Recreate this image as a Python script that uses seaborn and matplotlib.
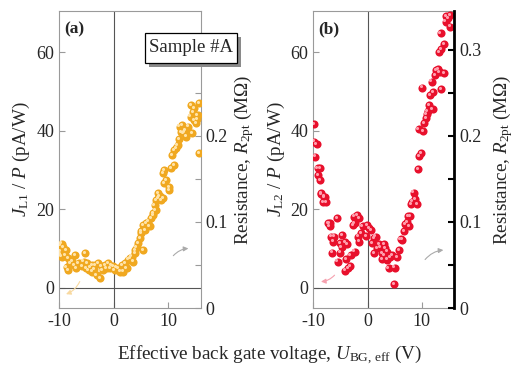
import numpy as np
import pandas as pd
import matplotlib
matplotlib.use("Agg")
import matplotlib.pyplot as plt
import seaborn as sns
from matplotlib.transforms import offset_copy
from matplotlib.ticker import MultipleLocator, FuncFormatter
from matplotlib.patches import Rectangle

# ---------------- data ----------------
xa = [-9.8, -9.5, -9.2, -9.8, -9.5, -9.7, -8.7, -8.9, -8.3, -8.0, -8.3, -8.6, -7.0, -7.3, -7.6,
      -6.4, -6.8, -5.8, -5.2, -5.5, -4.9, -4.6, -5.0, -4.0, -4.0, -4.3, -3.4, -3.1, -3.6, -2.5,
      -2.8, -2.2, -2.0, -1.6, -1.3, -1.0, -0.7, -0.4, -0.1, 0.2, 0.5, 0.9, 1.2, 1.5, 1.8, 2.1,
      2.4, 2.7, 3.0, 3.3, 3.6, 3.9, 3.9, 4.2, 4.5, 4.8, 5.1, 5.1, 5.4, 5.4, 5.7, 6.0, 6.3, 6.6,
      6.9, 7.2, 7.2, 7.5, 7.7, 7.8, 8.1, 8.1, 8.4, 8.7, 9.0, 9.3, 9.6, 10.2, 10.1, 9.0, 9.3,
      10.5, 11.1, 10.7, 11.1, 11.5, 11.7, 12.1, 12.5, 12.4, 12.8, 13.3, 13.0, 13.7, 13.2, 14.4,
      14.1, 14.2, 14.8, 14.8, 15.1, 15.4, 15.7, 15.6, 15.3, 14.5, 12.0]
ya = [10.9, 11.2, 10.4, 9.2, 7.9, 8.6, 9.6, 8.2, 7.5, 6.2, 4.5, 5.2, 8.3, 5.8, 6.8,
      6.2, 5.0, 5.4, 8.8, 6.6, 6.2, 4.5, 5.0, 5.8, 4.1, 5.2, 5.8, 3.2, 4.8, 2.4,
      6.2, 5.4, 4.4, 5.8, 4.9, 6.2, 4.9, 5.6, 5.4, 4.5, 5.1, 4.9, 4.1, 5.8, 4.1, 6.2,
      5.0, 7.1, 7.5, 7.9, 6.6, 8.8, 9.6, 10.4, 11.3, 12.6, 13.9, 14.3, 9.6, 16.0, 14.7, 16.4, 16.8, 15.6,
      17.7, 19.0, 18.5, 21.1, 19.8, 22.3, 24.0, 22.8, 23.4, 22.3, 22.8, 26.6, 27.4, 25.7, 24.9, 29.1, 30.0,
      30.4, 31.3, 33.8, 35.1, 35.5, 36.4, 41.0, 41.4, 39.7, 39.3, 38.5, 39.7, 41.0, 40.2, 39.3,
      43.6, 46.5, 45.7, 42.7, 41.9, 44.0, 47.0, 34.2, 43.0, 44.8, 37.8]

xb = [-9.8, -9.8, -9.4, -9.7, -9.2, -8.8, -9.1, -8.8, -8.5, -8.5, -7.9, -8.0, -8.2, -7.7, -7.3,
      -7.0, -7.0, -5.6, -6.7, -6.1, -6.4, -4.7, -5.1, -4.2, -3.7, -4.8, -6.5, -5.1, -5.5, -3.9,
      -3.1, -2.4, -4.2, -3.6, -3.2, -2.5, -1.9, -1.5, -2.7, -2.4, -1.8, -1.2, -1.5, -0.9, -0.1,
      0.3, 0.6, -0.3, 1.2, 1.5, 0.9, 1.2, 1.7, 2.1, 2.4, 2.7, 3.0, 3.3, 3.6, 3.0, 3.9, 2.7, 3.6,
      4.2, 4.5, 4.85, 5.0, 5.5, 5.8, 6.1, 6.4, 6.7, 7.0, 7.3, 7.7, 7.5, 7.9, 8.0, 8.2, 8.5, 8.8,
      9.1, 9.3, 9.5, 9.9, 9.4, 10.3, 10.4, 10.8, 10.9, 11.1, 11.3, 12.0, 11.5, 12.1, 11.8, 10.0,
      13.6, 12.4, 12.7, 13.0, 13.3, 14.1, 13.2, 13.6, 14.1, 13.5, 14.4, 14.9, 15.2, 15.3, 14.5]
yb = [41.7, 37.2, 36.6, 33.4, 30.4, 30.4, 28.7, 27.4, 24.0, 23.8, 23.2, 23.0, 21.8, 21.8, 16.4,
      16.4, 15.7, 17.7, 13.0, 13.0, 11.7, 13.4, 11.3, 11.5, 11.1, 10.4, 8.9, 8.9, 6.6, 7.2,
      8.3, 9.2, 4.3, 4.9, 5.4, 18.1, 18.5, 17.7, 16.0, 16.4, 13.0, 13.9, 11.7, 15.7, 16.0,
      15.1, 14.7, 13.2, 12.6, 13.0, 11.3, 8.8, 10.0, 11.1, 10.4, 8.8, 11.1, 10.0, 9.2, 8.3, 4.9, 7.2, 7.1,
      7.8, 8.3, 0.9, 5.1, 7.7, 9.6, 12.4, 12.2, 14.3, 16.2, 16.6, 15.7, 18.3, 18.3, 21.3, 21.9, 24.2, 22.6,
      21.3, 30.2, 33.6, 34.2, 40.3, 39.9, 42.0, 43.1, 44.2, 45.0, 46.5, 45.5, 49.1, 49.9, 52.5, 51.0,
      50.5, 54.2, 55.5, 55.6, 55.0, 54.6, 60.1, 60.7, 62.1, 64.8, 67.8, 68.6, 69.5, 66.5, 69.1]

x_ticks = [-10, 0, 10]
y_ticks = [0, 20, 40, 60]

# ---------------- style ----------------
sns.set_style("ticks")
plt.rcParams["font.family"] = ["Liberation Serif", "DejaVu Serif"]
plt.rcParams["mathtext.fontset"] = "custom"
plt.rcParams["mathtext.rm"] = "Liberation Serif"
plt.rcParams["mathtext.it"] = "Liberation Serif:italic"
plt.rcParams["mathtext.bf"] = "Liberation Serif:bold"
plt.rcParams["axes.unicode_minus"] = False

fig = plt.figure(figsize=(5.15, 3.69), dpi=100)
GRAY = "#9a9a9a"
FS_TICK = 13
FS_LAB = 13.8

panels = [
    dict(rect=[0.1146, 0.1653, 0.2757, 0.8049], x=xa, y=ya, col="#F0A820", hi="#FFE3A8",
         lab=r"$J_{\rm L1}$ / $P$ (pA/W)", tag="(a)", bold_right=False, rmax=0.25,
         arrows=[((-6.0, 2.2), (-9.2, -1.9), "#F8D9A0"), ((10.6, 7.6), (14.2, 10.0), "#aaaaaa")]),
    dict(rect=[0.6084, 0.1653, 0.2737, 0.8049], x=xb, y=yb, col="#E8102C", hi="#FF9FAE",
         lab=r"$J_{\rm L2}$ / $P$ (pA/W)", tag="(b)", bold_right=True, rmax=0.35,
         arrows=[((-5.75, 3.7), (-9.1, 1.5), "#F5A0AE"), ((10.3, 6.6), (14.5, 9.6), "#aaaaaa")]),
]

for p in panels:
    ax = fig.add_axes(p["rect"])
    df = pd.DataFrame({"U": p["x"], "J": p["y"]})
    ax.axhline(0, color="#555555", lw=0.8, zorder=1)
    ax.axvline(0, color="#555555", lw=0.8, zorder=1)
    sns.scatterplot(data=df, x="U", y="J", ax=ax, color=p["col"], s=34, linewidth=0,
                    legend=False, zorder=3)
    hl = offset_copy(ax.transData, fig=fig, x=-0.9, y=0.9, units="points")
    sns.scatterplot(data=df, x="U", y="J", ax=ax, color=p["hi"], s=5, linewidth=0,
                    legend=False, zorder=4, transform=hl)
    ax.set_xlim(-10, 16)
    ax.set_ylim(-5.2, 70.5)
    ax.set_xticks(x_ticks)
    ax.set_yticks(y_ticks)
    ax.tick_params(direction="in", length=4, width=0.8, color=GRAY, labelsize=FS_TICK,
                   right=False, top=False)
    for s in ax.spines.values():
        s.set_color(GRAY)
        s.set_linewidth(0.8)
    ax.set_xlabel("")
    ax.set_ylabel(p["lab"], fontsize=FS_LAB)
    ax.yaxis.set_label_coords(-0.265, 0.5)
    ax.yaxis.label.set_va("center")
    ax.text(0.035, 0.965, p["tag"], transform=ax.transAxes, fontsize=12.5, fontweight="bold",
            ha="left", va="top")
    for (st, en, c) in p["arrows"]:
        ax.annotate("", xy=en, xytext=st,
                    arrowprops=dict(arrowstyle="-|>", color=c, lw=0.8, mutation_scale=7,
                                    connectionstyle="arc3,rad=-0.25"))

    tw = ax.twinx()
    tw.set_ylim(0, 0.345)
    tw.yaxis.set_major_locator(MultipleLocator(0.1))
    tw.yaxis.set_minor_locator(MultipleLocator(0.05))
    rmax = p["rmax"]
    tw.yaxis.set_major_formatter(FuncFormatter(
        lambda v, pos, rmax=rmax: "" if v > rmax else ("0" if abs(v) < 1e-9 else f"{v:.1f}")))
    tw.set_ylabel("Resistance, $R_{\\rm 2pt}$ (MΩ)", fontsize=FS_LAB)
    tw.yaxis.set_label_coords(1.30 if not p["bold_right"] else 1.345, 0.5)
    tw.yaxis.label.set_va("center")
    for s in tw.spines.values():
        s.set_visible(False)
    if p["bold_right"]:
        tw.spines["right"].set_visible(True)
        tw.spines["right"].set_color("black")
        tw.spines["right"].set_linewidth(2.0)
        tw.tick_params(which="both", direction="in", length=4, width=1.5, color="black",
                       labelsize=FS_TICK)
    else:
        tw.tick_params(which="both", direction="in", length=4, width=0.8, color=GRAY,
                       labelsize=FS_TICK)

# Sample box with shadow (figure pixel geometry: x 145-237, y 33-63)
W, H = 515.0, 369.0
bx0, bx1, by0, by1 = 145, 237, 33, 63
sh = 4
fig.add_artist(Rectangle(((bx0 + sh) / W, 1 - (by1 + sh) / H), (bx1 - bx0) / W, (by1 - by0) / H,
                         transform=fig.transFigure, fc="#8a8a8a", ec="none", zorder=9))
fig.add_artist(Rectangle((bx0 / W, 1 - by1 / H), (bx1 - bx0) / W, (by1 - by0) / H,
                         transform=fig.transFigure, fc="white", ec="black", lw=0.9, zorder=10))
fig.text((bx0 + bx1) / 2 / W, 1 - (by0 + by1) / 2 / H, "Sample #A", fontsize=13.5,
         ha="center", va="center", zorder=11)

fig.text(0.523, 0.038, r"Effective back gate voltage, $U_{\rm BG,\,eff}$ (V)",
         fontsize=FS_LAB, ha="center", va="center")

fig.savefig("out.png", dpi=100)
